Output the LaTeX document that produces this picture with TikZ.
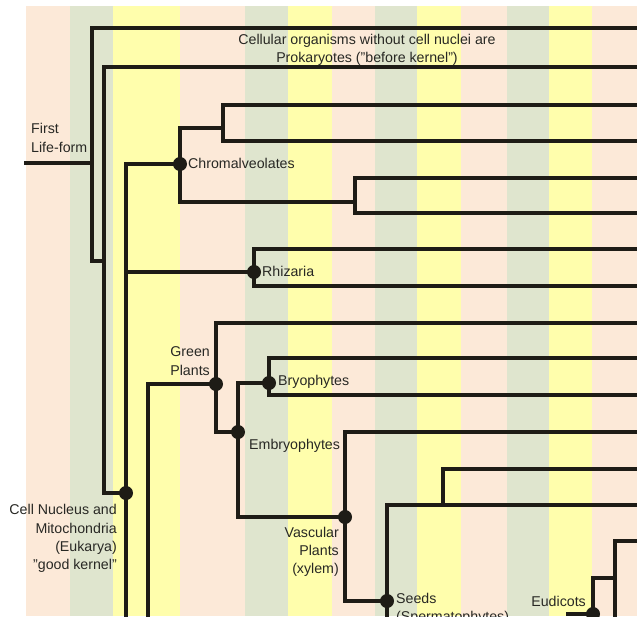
\documentclass[tikz,border=0pt]{standalone}
\usepackage{fontspec}
\setmainfont{Liberation Sans}
\definecolor{peach}{RGB}{252,233,216}
\definecolor{sage}{RGB}{223,229,206}
\definecolor{lemon}{RGB}{255,254,172}
\definecolor{branch}{RGB}{30,28,22}
\definecolor{txt}{RGB}{40,40,36}
\tikzset{
  br/.style={draw=branch,line width=3.2pt,line join=miter,line cap=rect},
  dotn/.style={circle,fill=branch,minimum size=14pt,inner sep=0pt},
  lab/.style={font=\fontsize{14.2}{18.3}\selectfont,text=txt,inner sep=0pt},
}
\begin{document}
\begin{tikzpicture}[x=1pt,y=-1pt]
\useasboundingbox (0,0) rectangle (637,616);
\fill[white] (0,0) rectangle (637,616);
% stripes
\foreach \a/\b/\c in {26/70/peach,70/113/sage,113/180/lemon,180/245/peach,245/288/sage,288/332/lemon,332/375/peach,375/417/sage,417/461/lemon,461/507/peach,507/549/sage,549/592/lemon,592/637/peach}
  \fill[\c] (\a,6) rectangle (\b,616);
% coordinates
\coordinate (start) at (26,163);
\coordinate (r0) at (92,163);
\coordinate (rA) at (92,261);
\coordinate (e104) at (104,261);
\node[dotn] (euk) at (126,493) {};
\node[dotn] (chrom) at (180,164) {};
\node[dotn] (rhiz) at (254,272) {};
\node[dotn] (green) at (216,384) {};
\node[dotn] (bryo) at (269,383) {};
\node[dotn] (embr) at (238,432) {};
\node[dotn] (vasc) at (345,517) {};
\node[dotn] (seed) at (387,601) {};
\node[dotn] (eudi) at (593,614) {};
% root
\draw[br] (start) -- (r0);
\draw[br] (637,28) -- (92,28) -- (rA) -- (e104);
\draw[br] (637,67) -- (104,67) -- (104,493) -- (euk.center);
% eukarya trunk
\draw[br] (chrom.center) -- (126,164) -- (126,616);
\draw[br] (126,272) -- (rhiz.center);
% chromalveolates
\draw[br] (180,128) -- (180,202);
\draw[br] (180,128) -- (223,128);
\draw[br] (637,105) -- (223,105) -- (223,141) -- (637,141);
\draw[br] (180,202) -- (355,202);
\draw[br] (637,178) -- (355,178) -- (355,213) -- (637,213);
% rhizaria
\draw[br] (637,249) -- (254,249) -- (254,286) -- (637,286);
% green plants
\draw[br] (148,616) -- (148,384) -- (green.center);
\draw[br] (637,323) -- (216,323) -- (216,432) -- (embr.center);
% bryophytes
\draw[br] (bryo.center) -- (238,383) -- (238,517) -- (vasc.center);
\draw[br] (637,358) -- (269,358) -- (269,395) -- (637,395);
% vascular
\draw[br] (637,432) -- (345,432) -- (345,601) -- (seed.center);
% seeds
\draw[br] (637,505) -- (387,505) -- (387,616);
\draw[br] (443,505) -- (443,469) -- (637,469);
% eudicots
\draw[br] (568,614) -- (eudi.center);
\draw[br] (eudi.center) -- (593,578) -- (615,578);
\draw[br] (615,616) -- (615,541) -- (637,541);
% labels
\node[lab,align=center] (prok) at (367,50) {Cellular organisms without cell nuclei are\\Prokaryotes ("before kernel")};
\node[lab,align=left,anchor=west] (first) at (31,138) {First\\Life-form};
\node[lab,anchor=west] (lchrom) at (188,163) {Chromalveolates};
\node[lab,anchor=west] (lrhiz) at (262,271) {Rhizaria};
\node[lab,align=right,anchor=east] (lgreen) at (210,361) {Green\\Plants};
\node[lab,anchor=west] (lbryo) at (278,382) {Bryophytes};
\node[lab,anchor=west] (lembr) at (249,446) {Embryophytes};
\node[lab,align=right,anchor=east] (leuk) at (117,538.5) {Cell Nucleus and\\Mitochondria\\(Eukarya)\\"good kernel"};
\node[lab,align=right,anchor=east] (lvasc) at (339,552) {Vascular\\Plants\\(xylem)};
\node[lab,align=left,anchor=west] (lseed) at (396,609) {Seeds\\(Spermatophytes)};
\node[lab,anchor=east] (leudi) at (586,601) {Eudicots};
\end{tikzpicture}
\end{document}
